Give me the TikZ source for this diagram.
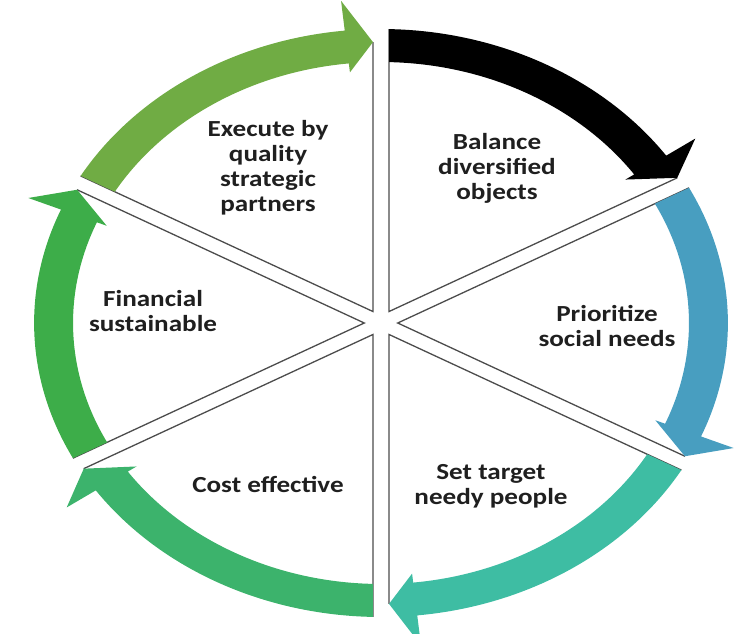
\documentclass[tikz,border=0pt]{standalone}
\usepackage{fontspec}
\setmainfont{Carlito}
\definecolor{cBlack}{RGB}{0,0,0}
\definecolor{cBlue}{RGB}{72,158,192}
\definecolor{cTeal}{RGB}{62,189,163}
\definecolor{cGreenA}{RGB}{60,179,108}
\definecolor{cGreenB}{RGB}{61,173,73}
\definecolor{cOlive}{RGB}{112,172,68}
\tikzset{
  sep/.style={draw=black!70, line width=1.3pt},
  lbl/.style={font=\bfseries\fontsize{23}{25}\selectfont, align=center, text=black!88, xscale=1.18, transform shape}
}
\def\Ro{294}\def\Ri{261}\def\Ho{324}\def\Hi{252}\def\gp{6.8}
\newcommand{\mysect}[4]{% #1 name, #2 start angle, #3 end angle, #4 tip radius
  \pgfmathsetmacro\mm{(#2+#3)/2}
  \pgfmathsetmacro\vd{\gp/sin((#2-#3)/2)}
  \pgfmathsetmacro\sa{#2-asin(\gp/\Ro)}
  \pgfmathsetmacro\ta{#3+asin(\gp/#4)}
  \coordinate (#1v) at (\mm:\vd);
  \coordinate (#1s) at (\sa:\Ro);
  \coordinate (#1e) at (\ta:#4);
  \draw[sep] (#1s) -- (#1v) -- (#1e);
}
\newcommand{\myband}[4]{% #1 start, #2 end, #3 colour, #4 tip radius
  \pgfmathsetmacro\sa{#1-asin(\gp/\Ro)}
  \pgfmathsetmacro\si{#1-asin(\gp/\Ri)}
  \pgfmathsetmacro\hb{#2+6}
  \pgfmathsetmacro\ta{#2+asin(\gp/#4)}
  \fill[#3] (\sa:\Ro) arc[start angle=\sa, end angle=\hb, radius=\Ro]
    -- (\hb:\Ho) -- (\ta:#4) -- (\hb:\Hi) -- (\hb:\Ri)
    arc[start angle=\hb, end angle=\si, radius=\Ri] -- cycle;
}
\begin{document}
\begin{tikzpicture}[x=1pt,y=1pt]
\useasboundingbox (0,0) rectangle (737,-633);
\begin{scope}[shift={(381,-323)}, xscale=1.18]
  \mysect{s1}{90}{28.7}{290}
  \mysect{s2}{28.7}{-28.7}{290}
  \mysect{s3}{-28.7}{-90}{281}
  \mysect{s4}{-90}{-151.3}{291}
  \mysect{s5}{-151.3}{-208.7}{290}
  \mysect{s6}{151.3}{90}{281}
  \myband{90}{28.7}{cBlack}{290}
  \myband{28.7}{-28.7}{cBlue}{290}
  \myband{-28.7}{-90}{cTeal}{281}
  \myband{-90}{-151.3}{cGreenA}{291}
  \myband{-151.3}{-208.7}{cGreenB}{290}
  \myband{151.3}{90}{cOlive}{281}
\end{scope}
\node[lbl] (t1) at (268,-168) {Execute by\\quality\\strategic\\partners};
\node[lbl] (t2) at (497,-168) {Balance\\diversified\\objects};
\node[lbl] (t3) at (607,-326) {Prioritize\\social needs};
\node[lbl] (t4) at (491,-486) {Set target\\needy people};
\node[lbl] (t5) at (268,-484) {Cost effective};
\node[lbl] (t6) at (153,-311) {Financial\\sustainable};
\end{tikzpicture}
\end{document}
